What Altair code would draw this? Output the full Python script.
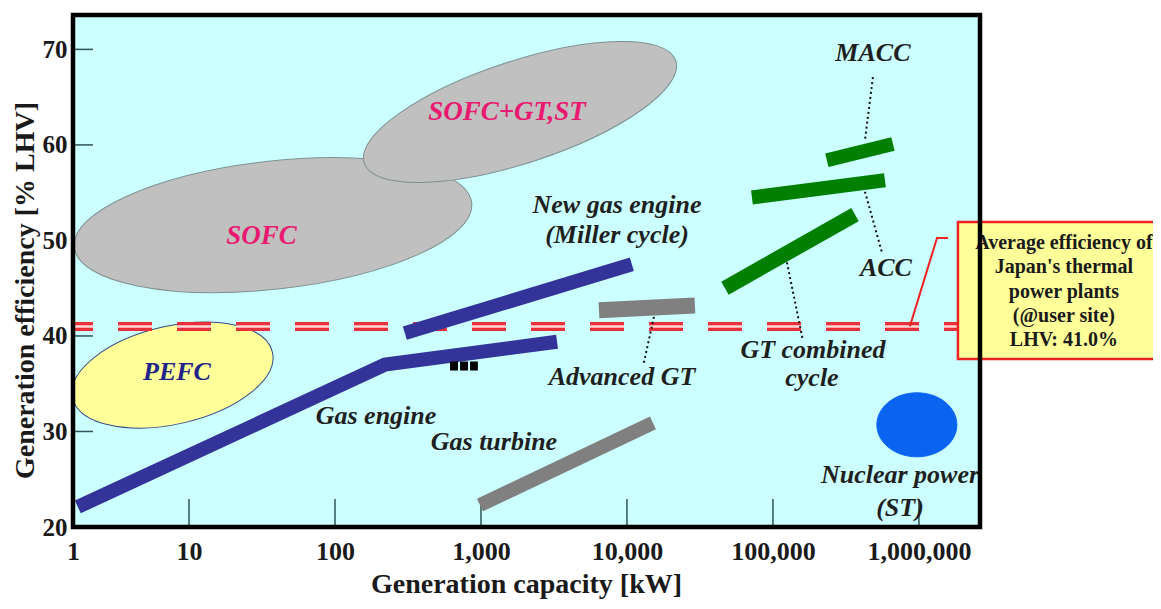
import altair as alt
import pandas as pd

# ---------------- data ----------------
x_ticks = [1, 10, 100, 1000, 10000, 100000, 1000000]
y_ticks = [20, 30, 40, 50, 60, 70]

gas_engine_kw = [1.1, 220, 3320]
gas_engine_eff = [22.1, 37.0, 39.4]
new_gas_engine_kw = [301, 10800]
new_gas_engine_eff = [40.3, 47.5]
gas_turbine_kw = [984, 15070]
gas_turbine_eff = [22.3, 30.9]
advanced_gt_kw = [6430, 29200]
advanced_gt_eff = [42.7, 43.2]
gtcc_kw = [46900, 365000]
gtcc_eff = [45.0, 52.7]
acc_kw = [71800, 585000]
acc_eff = [54.5, 56.3]
macc_kw = [234000, 664000]
macc_eff = [58.4, 60.1]

# region centres (kW, %)
sofc_center = [37.6, 51.6]
sofc_gt_center = [1850, 63.45]
pefc_center = [7.21, 35.9]
nuclear_center = [968000, 30.7]

avg_efficiency = 41.0

label_text = ["New gas engine", "(Miller cycle)", "Gas engine", "Gas turbine",
              "Advanced GT", "GT combined", "cycle", "MACC", "ACC",
              "Nuclear power", "(ST)"]
label_kw = [8550, 8550, 191, 1227, 9250, 188000, 185000, 484000, 594000, 742000, 742000]
label_eff = [53.7, 50.6, 31.6, 28.9, 35.7, 38.5, 35.6, 69.6, 47.1, 25.4, 22.0]

region_text = ["SOFC", "SOFC+GT,ST"]
region_kw = [31.4, 1507]
region_eff = [50.5, 63.45]
pefc_text = ["PEFC"]
pefc_kw = [7.88]
pefc_eff = [36.2]

leader_kw = [484000, 427000, 124700, 15300]
leader_kw2 = [427000, 559000, 160000, 13060]
leader_eff = [67.1, 55.1, 47.7, 42.0]
leader_eff2 = [60.5, 48.7, 39.6, 37.2]

marker_kw = [614]
marker_kw2 = [952]
marker_eff = [36.86]

callout_kw = [867000, 1330000, 1580000]
callout_eff = [41.0, 50.26, 50.26]
box_kw = [1850000]
box_kw2 = [45000000]
box_eff = [51.93]
box_eff2 = [37.59]
box_text_kw = [9840000]
box_text_eff = [49.73]
box_lines = ["Average efficiency of", "Japan's thermal", "power plants",
             "(@user site)", "LHV: 41.0%"]

# ---------------- styles ----------------
SERIF = "Liberation Serif"
W, H = 907, 512
xscale = alt.Scale(type="log", domain=[1, 10, 2620000], range=[0, 116, W], nice=False)
yscale = alt.Scale(domain=[20, 73.6], nice=False, zero=False)

x_axis = alt.Axis(values=x_ticks, labelExpr="format(datum.value, ',')", domain=False,
                  ticks=False, tickSize=0, grid=False, labelFont=SERIF, labelFontWeight="bold",
                  labelFontSize=26, labelColor="#1a1a1a", labelPadding=11, labelFlush=False,
                  labelOverlap=False, title="Generation capacity [kW]", titleFont=SERIF,
                  titleFontWeight="bold", titleFontSize=28, titleColor="#1a1a1a",
                  titleX=453, titleY=57, titleBaseline="middle", titleAlign="center")
y_axis = alt.Axis(values=y_ticks, domain=False, ticks=False, tickSize=0, grid=False,
                  labelFont=SERIF, labelFontWeight="bold", labelFontSize=25,
                  labelColor="#1a1a1a", labelPadding=6, labelFlush=False, labelOverlap=False,
                  title="Generation efficiency [% LHV]", titleFont=SERIF,
                  titleFontWeight="bold", titleFontSize=28, titleColor="#1a1a1a",
                  titleX=-48, titleY=275, titleBaseline="middle", titleAlign="center",
                  titleAngle=270)


def X(field):
    return alt.X(field, type="quantitative", scale=xscale, axis=x_axis)


def Y(field):
    return alt.Y(field, type="quantitative", scale=yscale, axis=y_axis)


layers = []

# inner tick marks
layers.append(alt.Chart(pd.DataFrame({"kw": x_ticks})).mark_rule(
    color="#2f5555", strokeWidth=1.5).encode(
    x=X("kw"), y=alt.value(H - 28), y2=alt.value(H)))
layers.append(alt.Chart(pd.DataFrame({"eff": y_ticks})).mark_rule(
    color="#2f5555", strokeWidth=1.5).encode(
    y=Y("eff"), x=alt.value(0), x2=alt.value(20)))


def ellipse(center, a, b, angle, fill, stroke):
    r = b / a
    path = f"M -1 0 A 1 {r:.3f} 0 1 1 1 0 A 1 {r:.3f} 0 1 1 -1 0 Z"
    return alt.Chart(pd.DataFrame({"kw": [center[0]], "eff": [center[1]]})).mark_point(
        shape=path, size=(2 * a) ** 2, angle=angle, filled=True, fill=fill, stroke=stroke,
        strokeWidth=1, opacity=1, fillOpacity=1, clip=True).encode(x=X("kw"), y=Y("eff"))


layers.append(ellipse(sofc_center, 200, 64, 353.6, "#c0c0c0", "#7f8f8f"))
layers.append(ellipse(sofc_gt_center, 164, 51, 341.8, "#c0c0c0", "#7f8f8f"))
layers.append(ellipse(pefc_center, 102.5, 49, 347.1, "#ffff99", "#3a4a8a"))
layers.append(ellipse(nuclear_center, 40, 32, 0, "#0a64f0", "#0a64f0"))

# average efficiency double dashed line
layers.append(alt.Chart(pd.DataFrame({"eff": [avg_efficiency]})).mark_rule(
    color="#e8303a", strokeWidth=9, strokeDash=[34, 25], strokeDashOffset=14).encode(
    y=Y("eff"), x=alt.value(0), x2=alt.value(W)))
layers.append(alt.Chart(pd.DataFrame({"eff": [avg_efficiency]})).mark_rule(
    color="#ffd8d8", strokeWidth=2.5, strokeDash=[34, 25], strokeDashOffset=14).encode(
    y=Y("eff"), x=alt.value(0), x2=alt.value(W)))


def bar(kw, eff, color, width):
    return alt.Chart(pd.DataFrame({"kw": kw, "eff": eff})).mark_line(
        color=color, strokeWidth=width, strokeCap="butt", strokeJoin="miter", clip=True).encode(
        x=X("kw"), y=Y("eff"))


NAVY = "#333399"
GRAY = "#808080"
GREEN = "#007f00"
layers.append(bar(gas_engine_kw, gas_engine_eff, NAVY, 14))
layers.append(bar(new_gas_engine_kw, new_gas_engine_eff, NAVY, 14))
layers.append(bar(gas_turbine_kw, gas_turbine_eff, GRAY, 14))
layers.append(bar(advanced_gt_kw, advanced_gt_eff, GRAY, 16))
layers.append(bar(gtcc_kw, gtcc_eff, GREEN, 15))
layers.append(bar(acc_kw, acc_eff, GREEN, 14))
layers.append(bar(macc_kw, macc_eff, GREEN, 14))

# small black marker
layers.append(alt.Chart(pd.DataFrame({"kw": marker_kw, "kw2": marker_kw2, "eff": marker_eff})).mark_rule(
    color="black", strokeWidth=9, strokeDash=[8, 2]).encode(
    x=X("kw"), x2="kw2", y=Y("eff")))

# dotted leaders
layers.append(alt.Chart(pd.DataFrame({"kw": leader_kw, "kw2": leader_kw2,
                                      "eff": leader_eff, "eff2": leader_eff2})).mark_rule(
    color="#111111", strokeWidth=2, strokeDash=[2, 3]).encode(
    x=X("kw"), x2="kw2", y=Y("eff"), y2="eff2"))

# labels
layers.append(alt.Chart(pd.DataFrame({"t": label_text, "kw": label_kw, "eff": label_eff})).mark_text(
    font=SERIF, fontStyle="italic", fontWeight="bold", fontSize=26, color="#1f1f1f",
    align="center", baseline="middle", clip=True).encode(
    x=X("kw"), y=Y("eff"), text="t:N"))
layers.append(alt.Chart(pd.DataFrame({"t": region_text, "kw": region_kw, "eff": region_eff})).mark_text(
    font=SERIF, fontStyle="italic", fontWeight="bold", fontSize=27, color="#e8196e",
    align="center", baseline="middle").encode(
    x=X("kw"), y=Y("eff"), text="t:N"))
layers.append(alt.Chart(pd.DataFrame({"t": pefc_text, "kw": pefc_kw, "eff": pefc_eff})).mark_text(
    font=SERIF, fontStyle="italic", fontWeight="bold", fontSize=26, color="#22228b",
    align="center", baseline="middle").encode(
    x=X("kw"), y=Y("eff"), text="t:N"))

# callout
layers.append(alt.Chart(pd.DataFrame({"kw": callout_kw, "eff": callout_eff,
                                      "o": list(range(len(callout_kw)))})).mark_line(
    color="#ee2222", strokeWidth=2).encode(x=X("kw"), y=Y("eff"), order="o:Q"))
layers.append(alt.Chart(pd.DataFrame({"kw": box_kw, "kw2": box_kw2,
                                      "eff": box_eff, "eff2": box_eff2})).mark_rect(
    fill="#ffff99", stroke="#ee2222", strokeWidth=2.5).encode(
    x=X("kw"), x2="kw2", y=Y("eff"), y2="eff2"))
layers.append(alt.Chart(pd.DataFrame({"kw": box_text_kw, "eff": box_text_eff})).mark_text(
    text=box_lines, font=SERIF, fontWeight="bold", fontSize=20, lineHeight=24.3,
    color="#1a1a1a", align="center", baseline="middle").encode(
    x=X("kw"), y=Y("eff")))

# frame
layers.append(alt.Chart(alt.Data(values=[{}])).mark_rect(
    fill="transparent", stroke="black", strokeWidth=4.5).encode(
    x=alt.value(0), x2=alt.value(W), y=alt.value(0), y2=alt.value(H)))

chart = alt.layer(*layers).properties(
    width=W, height=H,
    padding={"left": 65, "top": 7, "right": 173, "bottom": 74},
    autosize=alt.AutoSizeParams(type="none"),
    background="white",
).configure_view(fill="#ccffff", stroke="transparent")

chart.save("out.html", embed_options={"renderer": "svg", "actions": False})
